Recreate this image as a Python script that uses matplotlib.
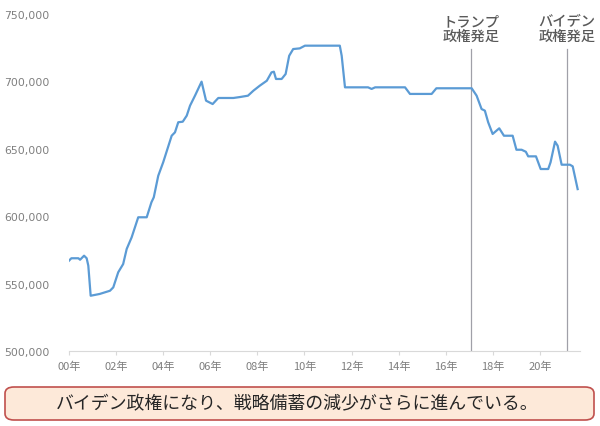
import matplotlib
matplotlib.use("Agg")
import matplotlib.pyplot as plt
from matplotlib.patches import FancyBboxPatch
from matplotlib.ticker import FuncFormatter

plt.rcParams['font.family'] = ['Noto Sans CJK JP', 'DejaVu Sans']

# US strategic petroleum reserve (thousand barrels)
years = [2000.0, 2000.1, 2000.4, 2000.47, 2000.64, 2000.75, 2000.82, 2000.92,
         2001.3, 2001.74, 2001.88, 2002.09, 2002.3, 2002.45, 2002.66, 2002.94,
         2003.3, 2003.5, 2003.6, 2003.79, 2004.0, 2004.36, 2004.5, 2004.64,
         2004.83, 2005.0, 2005.14, 2005.35, 2005.63, 2005.82, 2006.1, 2006.34,
         2006.98, 2007.26, 2007.6, 2007.83, 2008.1, 2008.4, 2008.6, 2008.7,
         2008.79, 2009.03, 2009.2, 2009.35, 2009.52, 2009.8, 2010.02, 2011.5,
         2011.58, 2011.72, 2012.7, 2012.85, 2013.0, 2014.27, 2014.48, 2015.4,
         2015.6, 2017.1, 2017.31, 2017.52, 2017.66, 2017.8, 2017.99, 2018.27,
         2018.47, 2018.84, 2019.0, 2019.22, 2019.4, 2019.5, 2019.83, 2020.03,
         2020.35, 2020.45, 2020.64, 2020.75, 2020.92, 2021.27, 2021.39, 2021.6]
stock = [567000, 568800, 568800, 567700, 570700, 568800, 563300, 541000,
         542300, 544700, 547200, 558400, 564500, 575700, 584300, 599200,
         599200, 610300, 614000, 630000, 640000, 659700, 662200, 669700,
         670100, 674600, 682000, 689400, 699800, 685700, 683200, 687700,
         687700, 688400, 689400, 693100, 696800, 700500, 706700, 707200,
         701800, 701800, 705500, 719000, 724000, 724500, 726500, 726500,
         719000, 695600, 695600, 694400, 695600, 695600, 690700, 690700,
         694900, 694900, 689400, 679500, 678300, 669700, 661000, 665200,
         659700, 659700, 649300, 649300, 647800, 644400, 644400, 635000,
         635000, 640000, 655300, 652300, 638200, 638200, 637000, 620100]

tick_years = list(range(2000, 2021, 2))
tick_labels = [f"{y % 100:02d}年" for y in tick_years]

events = [2017.07, 2021.15]
event_labels = ["トランプ\n政権発足", "バイデン\n政権発足"]

caption = "バイデン政権になり、戦略備蓄の減少がさらに進んでいる。"

fig = plt.figure(figsize=(6, 4.27), dpi=100)
ax = fig.add_axes([69 / 600, (427 - 352) / 427, (580 - 69) / 600, (352 - 15) / 427])

ax.plot(years, stock, color="#5b9bd5", lw=1.6, zorder=3)

for x, lab in zip(events, event_labels):
    ax.axvline(x, ymin=0, ymax=(352 - 50) / (352 - 15), color="#a0a0a8", lw=0.9, zorder=2)
    ax.text(x, 1.0, lab, transform=ax.get_xaxis_transform(), ha="center", va="top",
            fontsize=10.3, color="#595959", fontweight="medium", linespacing=1.1)

ax.set_xlim(2000, 2021.7)
ax.set_ylim(500000, 750000)
ax.set_yticks(range(500000, 750001, 50000))
ax.yaxis.set_major_formatter(FuncFormatter(lambda v, p: f"{int(v):,}"))
ax.set_xticks(tick_years)
ax.set_xticklabels(tick_labels)

for s in ["top", "right", "left"]:
    ax.spines[s].set_visible(False)
ax.spines["bottom"].set_color("#d9d9d9")
ax.tick_params(axis="y", length=0, labelsize=7.8, labelcolor="#7f7f7f", pad=14)
ax.tick_params(axis="x", length=3, color="#d9d9d9", labelsize=8, labelcolor="#7f7f7f", pad=4)
for t in ax.get_yticklabels():
    t.set_family("DejaVu Sans")

box = FancyBboxPatch((5 / 600, (427 - 421) / 427), 589 / 600, 33 / 427,
                     boxstyle="round,pad=0,rounding_size=0.015",
                     transform=fig.transFigure, facecolor="#fde9d9",
                     edgecolor="#c0504d", lw=1.2)
fig.patches.append(box)
fig.text(0.495, (427 - 404.5) / 427, caption, ha="center", va="center",
         fontsize=12.9, color="#262626")

fig.savefig("out.png", dpi=100)
